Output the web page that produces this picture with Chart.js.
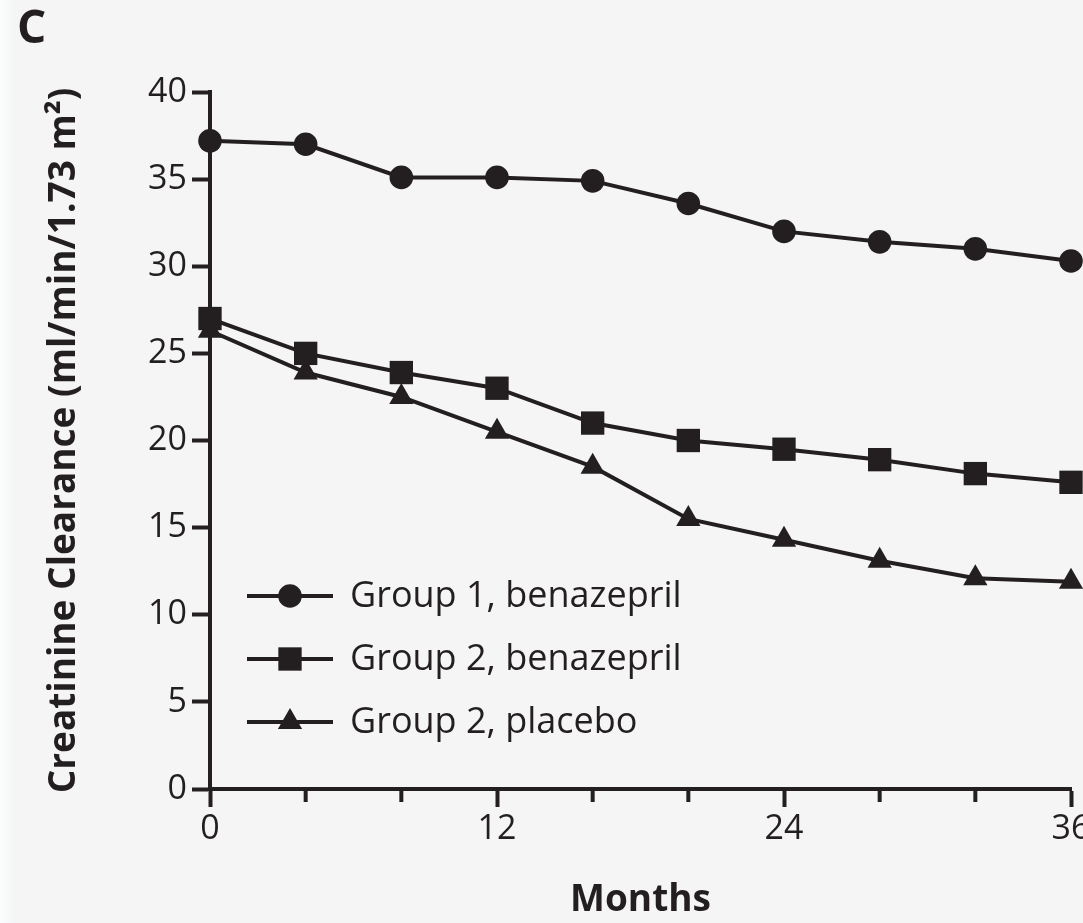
<!DOCTYPE html>
<html>
<head>
<meta charset="utf-8">
<script src="https://cdn.jsdelivr.net/npm/chart.js@4.4.1/dist/chart.umd.min.js"></script>
<style>
  html, body { margin: 0; padding: 0; width: 1083px; height: 923px; overflow: hidden; background: #f5f5f5; }
  #wrap { position: relative; width: 1083px; height: 923px; overflow: hidden; }
  #edge { position: absolute; left: 0; top: 0; width: 14px; height: 923px;
          background: linear-gradient(to right, #fcfdfe, #f5f5f5); }
  #panel { position: absolute; left: 17px; top: 2px; font: bold 46px "Open Sans", sans-serif;
           line-height: 46px; color: #231f20; }
  canvas { position: absolute; left: 0; top: 0; }
</style>
</head>
<body>
<div id="wrap">
  <div id="edge"></div>
  <canvas id="chart" width="1110" height="923"></canvas>
  <div id="panel">C</div>
</div>
<script>
// Follow-up visits (months) and mean creatinine clearance per group
const months = [0, 4, 8, 12, 16, 20, 24, 28, 32, 36];
const group1Benazepril = [37.2, 37.0, 35.1, 35.1, 34.9, 33.6, 32.0, 31.4, 31.0, 30.3];
const group2Benazepril = [27.0, 25.0, 23.9, 23.0, 21.0, 20.0, 19.5, 18.9, 18.1, 17.6];
const group2Placebo    = [26.3, 23.9, 22.5, 20.5, 18.5, 15.5, 14.3, 13.1, 12.1, 11.9];
const seriesLabels = ['Group 1, benazepril', 'Group 2, benazepril', 'Group 2, placebo'];
const labeledMonths = [0, 12, 24, 36];

const ink = '#231f20';
const family = '"Open Sans", sans-serif';
const stroke = 4;

function series(label, values, style, radius) {
  return {
    label,
    data: months.map((m, i) => ({ x: m, y: values[i] })),
    borderColor: ink,
    backgroundColor: ink,
    borderWidth: stroke,
    pointStyle: style,
    pointRadius: radius,
    pointHoverRadius: radius,
    pointBorderWidth: 0,
    tension: 0,
    clip: false
  };
}

// Short unlabeled ticks between the labeled yearly ones
const minorTicks = {
  id: 'minorTicks',
  afterDraw(chart) {
    const sx = chart.scales.x;
    const ctx = chart.ctx;
    ctx.save();
    ctx.strokeStyle = ink;
    ctx.lineWidth = stroke;
    sx.ticks.forEach(t => {
      if (!labeledMonths.includes(t.value)) {
        const px = sx.getPixelForValue(t.value);
        ctx.beginPath();
        ctx.moveTo(px, sx.top);
        ctx.lineTo(px, sx.top + 13);
        ctx.stroke();
      }
    });
    ctx.restore();
  }
};

// Key drawn in the lower-left of the plot area: line, marker, label
const insideLegend = {
  id: 'insideLegend',
  afterDatasetsDraw(chart) {
    const { ctx, chartArea } = chart;
    const x0 = chartArea.left + 37, x1 = chartArea.left + 123;
    const xm = (x0 + x1) / 2;
    const textX = chartArea.left + 140;
    const rows = [chartArea.bottom - 193, chartArea.bottom - 130, chartArea.bottom - 67];
    chart.data.datasets.forEach((ds, i) => {
      const y = rows[i];
      ctx.save();
      ctx.strokeStyle = ds.borderColor;
      ctx.lineWidth = ds.borderWidth;
      ctx.beginPath();
      ctx.moveTo(x0, y);
      ctx.lineTo(x1, y);
      ctx.stroke();
      ctx.fillStyle = ds.backgroundColor;
      Chart.helpers.drawPoint(ctx, { pointStyle: ds.pointStyle, radius: ds.pointRadius, borderWidth: 0, rotation: 0 }, xm, y);
      ctx.fillStyle = ink;
      ctx.font = '36px ' + family;
      ctx.textBaseline = 'middle';
      ctx.textAlign = 'left';
      ctx.fillText(ds.label, textX, y + 1);
      ctx.restore();
    });
  }
};

new Chart(document.getElementById('chart'), {
  type: 'line',
  data: {
    datasets: [
      series(seriesLabels[0], group1Benazepril, 'circle', 11.8),
      series(seriesLabels[1], group2Benazepril, 'rect', 16.5),
      series(seriesLabels[2], group2Placebo, 'triangle', 14)
    ]
  },
  options: {
    responsive: false,
    animation: false,
    events: [],
    layout: { padding: { top: 92, right: 39, bottom: 0, left: 0 } },
    plugins: { legend: { display: false }, tooltip: { enabled: false } },
    scales: {
      x: {
        type: 'linear',
        min: 0,
        max: 36,
        ticks: {
          stepSize: 4,
          color: ink,
          font: { family, size: 34 },
          padding: 2,
          maxRotation: 0,
          autoSkip: false,
          callback: v => (labeledMonths.includes(v) ? String(v) : '')
        },
        grid: {
          drawOnChartArea: false,
          drawTicks: true,
          tickLength: 18,
          tickWidth: stroke,
          tickColor: c => (labeledMonths.includes(c.tick.value) ? ink : 'rgba(0,0,0,0)')
        },
        border: { color: ink, width: stroke },
        title: {
          display: true,
          text: 'Months',
          color: ink,
          font: { family, size: 37, weight: 'bold' },
          padding: { top: 0, bottom: 0 }
        },
        afterFit: s => { s.height = 134; }
      },
      y: {
        min: 0,
        max: 40,
        ticks: {
          stepSize: 5,
          color: ink,
          font: { family, size: 34 },
          padding: 5
        },
        grid: {
          drawOnChartArea: false,
          drawTicks: true,
          tickLength: 18,
          tickWidth: stroke,
          tickColor: ink
        },
        border: { color: ink, width: stroke },
        title: {
          display: true,
          text: 'Creatinine Clearance (ml/min/1.73 m²)',
          color: ink,
          font: { family, size: 37, weight: 'bold' },
          padding: { top: 42, bottom: 0 }
        },
        afterFit: s => { s.width = 210; }
      }
    }
  },
  plugins: [minorTicks, insideLegend]
});
</script>
</body>
</html>
